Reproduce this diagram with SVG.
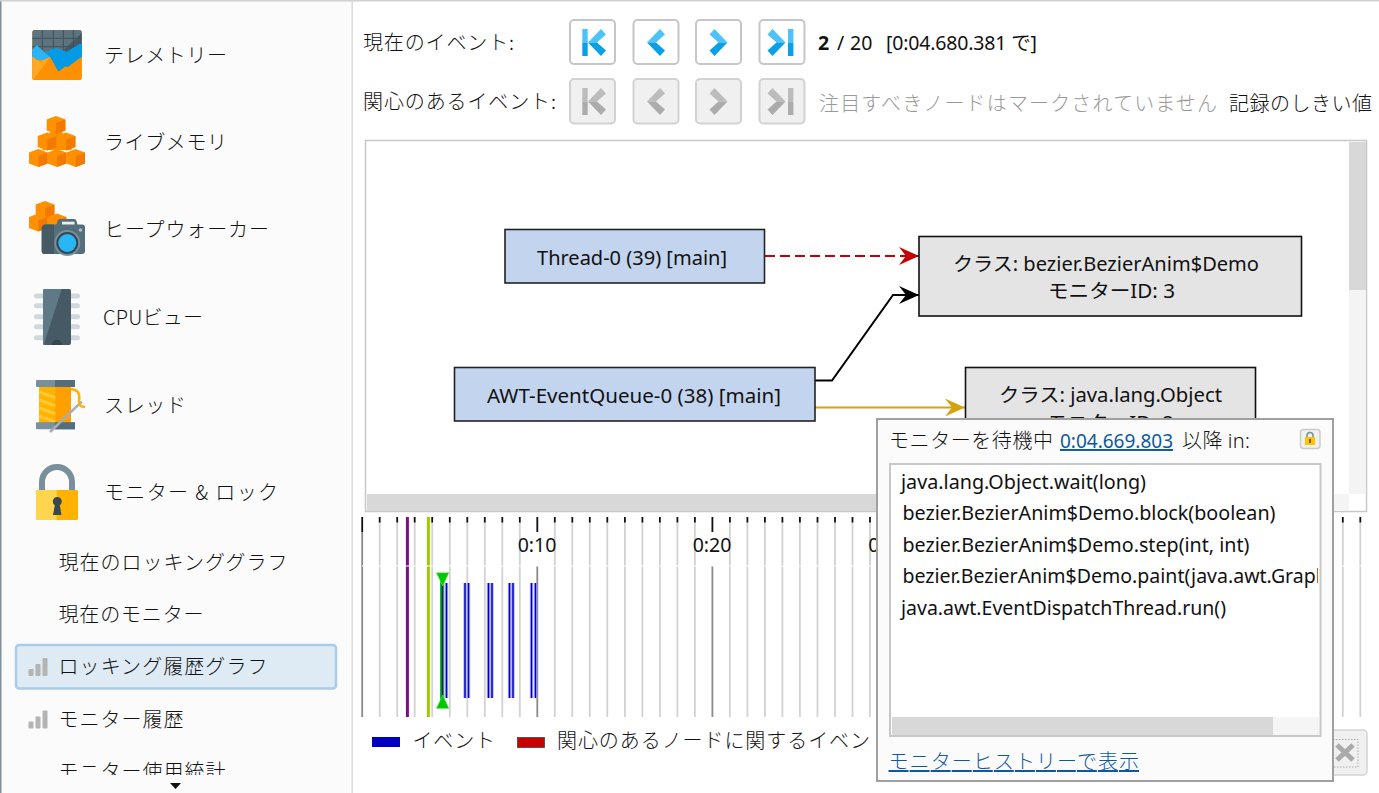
<svg xmlns="http://www.w3.org/2000/svg" xmlns:xlink="http://www.w3.org/1999/xlink" width="1379" height="793" viewBox="0 0 1379 793">
<style>
text{font-family:"Noto Sans","Noto Sans CJK JP",sans-serif;font-size:19.500px;fill:#111}
.jp{font-family:"Noto Sans CJK JP","Noto Sans",sans-serif;font-weight:300;font-size:20px}
.c{text-anchor:middle}
.thr{fill:#c3d4ee;stroke:#222;stroke-width:1.600}
.mon{fill:#e4e4e4;stroke:#111;stroke-width:1.600}
.btn{fill:#fff;stroke:#c6c6c6;stroke-width:2}
.btd{fill:#f0f0f0;stroke:#d2d2d2;stroke-width:2}
.lnk{fill:#0b5a9e}
.lt{fill:#4dc3fa}.dk{fill:#0aa0e8}.glt{fill:#bcbcbc}.gdk{fill:#acacac}
.bar{fill:#b4b4b4}
.minor{stroke:#d2d2d2;stroke-width:1.800;fill:none}
.major{stroke:#8a8a8a;stroke-width:1.800;fill:none}
.tick{stroke:#111;stroke-width:1.800;fill:none}
.evh{stroke:#b4b4f4;stroke-width:3.400;fill:none}
.ev{stroke:#0000cc;stroke-width:1.500;fill:none}
.cl{fill:#ff9100}.cd{fill:#f27a00}
</style>
<defs>
<marker id="hr" markerUnits="userSpaceOnUse" markerWidth="22" markerHeight="20" refX="20" refY="9" orient="auto"><path d="M0 0L20 9L0 18L7 9Z" fill="#c40000"/></marker>
<marker id="hk" markerUnits="userSpaceOnUse" markerWidth="22" markerHeight="20" refX="20" refY="9" orient="auto"><path d="M0 0L20 9L0 18L7 9Z" fill="#000"/></marker>
<marker id="hy" markerUnits="userSpaceOnUse" markerWidth="22" markerHeight="20" refX="20" refY="9" orient="auto"><path d="M0 0L20 9L0 18L7 9Z" fill="#d4a410"/></marker>
<g id="chev"><polygon class="lt" points="0,42.500 13,29 18,34.500 9,42.500"/><polygon class="dk" points="0,42.500 9,42.500 18,50.500 13,56"/></g>
<g id="chevg"><polygon class="glt" points="0,42.500 13,29 18,34.500 9,42.500"/><polygon class="gdk" points="0,42.500 9,42.500 18,50.500 13,56"/></g>
<g id="bars"><rect class="bar" x="0" y="11" width="5" height="7" rx="1"/><rect class="bar" x="7" y="6" width="5" height="12" rx="1"/><rect class="bar" x="14" y="0" width="5" height="18" rx="1"/></g>
<g id="cube"><polygon class="cl" points="0,3.500 9.350,0 18.700,3.500 18.700,14.500 9.350,18 0,14.500"/><polygon class="cd" points="9.350,7 18.700,3.500 18.700,14.500 9.350,18"/></g>
<clipPath id="sideClip"><rect x="0" y="0" width="352" height="775"/></clipPath>
<clipPath id="listClip"><rect x="892" y="466" width="426" height="250"/></clipPath>
<clipPath id="topClip"><rect x="355" y="0" width="1017" height="135"/></clipPath>
</defs>
<rect width="1379" height="793" fill="#fff"/>
<g id="sidebar">
<rect x="0" y="0" width="352" height="793" fill="#fbfbfb"/>
<rect x="0" y="0" width="1.500" height="793" fill="#7f909c"/>
<rect x="351.500" y="0" width="1.500" height="793" fill="#dcdcdc"/>
<rect x="0" y="0" width="1379" height="1.500" fill="#d0d0d0"/>
<g id="nav-telemetry">
<rect x="32.300" y="30" width="49.400" height="50" rx="2.500" fill="#ff9100"/>
<path d="M32.300 32.500a2.500 2.500 0 0 1 2.500-2.500H79.200a2.500 2.500 0 0 1 2.500 2.500V58H32.300Z" fill="#5d737e"/>
<path d="M81.700 33L55 58H81.700Z" fill="#455a64"/>
<path d="M42.300 30V50M53.300 30V50M63.300 30V50M73.300 30V50M32.300 38.300H81.700M32.300 46.700H81.700" stroke="#3f515a" stroke-width="1"/>
<path d="M32.300 50L36.700 45L45 53L55 48L66.700 52L80 44L81.700 44V60H32.300Z" fill="#29b6f6"/>
<path d="M45 53L55 48L66.700 52L80 44L81.700 44V57L68.300 67L65 67L58.300 72L50 57Z" fill="#039be5"/>
<path d="M32.300 56.700L40 61.700L50 57L58.300 71.700L65 66.700L68.300 66.700L81.700 56.700V77.500a2.500 2.500 0 0 1-2.500 2.500H34.800a2.500 2.500 0 0 1-2.500-2.500Z" fill="#ff9100"/>
<path d="M32.300 56.700L40 61.700L50 57L33 80A2.500 2.500 0 0 1 32.300 77.500Z" fill="#ffa726"/>
</g>
<text class="jp" x="104" y="63" textLength="123">テレメトリー</text>
<g id="nav-livememory">
<polygon class="cl" points="50,132 62,132 72,150 42,150"/>
<use href="#cube" x="46.700" y="116"/>
<use href="#cube" x="37.700" y="132.500"/><use href="#cube" x="56.700" y="132.500"/>
<use href="#cube" x="29" y="149"/><use href="#cube" x="47.700" y="149"/><use href="#cube" x="66.300" y="149"/>
</g>
<text class="jp" x="104" y="150" textLength="123">ライブメモリ</text>
<g id="nav-heapwalker">
<use href="#cube" x="35.700" y="201"/><use href="#cube" x="29" y="213.500"/><use href="#cube" x="47.700" y="213.500"/>
<path d="M41.700 228a4 4 0 0 1 3-3.500H56.500L58 220a2 2 0 0 1 2-1H74a2.500 2.500 0 0 1 2.500 2L77.500 224.500H82a3 3 0 0 1 3 3V251a3 3 0 0 1-3 3H44.700a3 3 0 0 1-3-3Z" fill="#546e7a"/>
<path d="M41.700 228a4 4 0 0 1 3-3.500H54V254H44.700a3 3 0 0 1-3-3Z" fill="#455a64"/>
<rect x="62" y="221.700" width="12.500" height="2.800" fill="#eceff1"/>
<circle cx="67.300" cy="243" r="13" fill="#78909c"/><circle cx="67.300" cy="243" r="11" fill="#37474f"/><circle cx="67.300" cy="243" r="9" fill="#29b6f6"/>
<circle cx="80.500" cy="230" r="1.800" fill="#b0bec5"/>
</g>
<text class="jp" x="104" y="237" textLength="165">ヒープウォーカー</text>
<g id="nav-cpu">
<path d="M36.500 296H77.500M36.500 305.700H77.500M36.500 316.700H77.500M36.500 326.700H77.500M36.500 337.700H77.500" stroke="#cfd8dc" stroke-width="5" stroke-linecap="round"/>
<rect x="43" y="289" width="28" height="56" rx="2" fill="#455a64"/>
<path d="M43 291a2 2 0 0 1 2-2H61.700L43.700 345H43Z" fill="#5f7a87"/>
<path d="M52 345a5 5 0 0 1 10 0Z" fill="#37474f"/>
</g>
<text class="jp" x="103" y="325" textLength="100">CPUビュー</text>
<g id="nav-threads">
<rect x="39.300" y="386" width="31.700" height="37" fill="#ffa000"/>
<rect x="39.300" y="386" width="16" height="37" fill="#ffb300"/>
<path d="M39.300 392L55.300 398M39.300 400L55.300 406M39.300 408L55.300 414M39.300 416L55.300 422" stroke="#ffc933" stroke-width="3"/>
<rect x="36" y="380" width="39" height="7" rx="1" fill="#78909c"/><rect x="55" y="380" width="20" height="7" fill="#546e7a"/>
<rect x="36" y="422.300" width="39" height="7" rx="1" fill="#78909c"/><rect x="55" y="422.300" width="20" height="7" fill="#546e7a"/>
<path d="M50 432L81.700 401.700" stroke="#a3afb5" stroke-width="2.500"/>
<path d="M71 389Q81 390 79 400Q78 407 85 407" stroke="#ffb300" stroke-width="2.500" fill="none"/>
</g>
<text class="jp" x="104" y="413" textLength="82">スレッド</text>
<g id="nav-monitors">
<path d="M42 490V482a15 15 0 0 1 30 0V490" stroke="#78909c" stroke-width="6" fill="none"/>
<rect x="36" y="490" width="42" height="30" rx="1.500" fill="#ffb300"/>
<path d="M37.500 490H56.700V520H37.500A1.500 1.500 0 0 1 36 518.500V491.500A1.500 1.500 0 0 1 37.500 490Z" fill="#ffd54f"/>
<path d="M57.300 497a4.500 4.500 0 0 1 2.500 8.200L61.500 515H53L54.800 505.200A4.500 4.500 0 0 1 57.300 497Z" fill="#37474f"/>
</g>
<text class="jp" x="104" y="500" textLength="174">モニター &amp; ロック</text>
<text class="jp" x="58.500" y="570" textLength="229">現在のロッキンググラフ</text>
<text class="jp" x="58.500" y="622" textLength="145">現在のモニター</text>
<g id="nav-selected">
<rect x="16" y="645" width="320" height="43.500" rx="3" fill="#deeaf4" stroke="#a9cde6" stroke-width="2.500"/>
<use href="#bars" x="28.500" y="658"/>
<text class="jp" x="58.500" y="674" textLength="209">ロッキング履歴グラフ</text>
</g>
<use href="#bars" x="28.500" y="710.500"/>
<text class="jp" x="58.500" y="727" textLength="125">モニター履歴</text>
<g clip-path="url(#sideClip)"><text class="jp" x="58.500" y="779" textLength="167">モニター使用統計</text></g>
<polygon points="170,783 181,783 175.500,789" fill="#111"/>
</g>
<g id="toolbar">
<text class="jp" x="363" y="50" textLength="151">現在のイベント:</text>
<g id="btn-first"><rect class="btn" x="570" y="20" width="45" height="44" rx="4"/><rect class="lt" x="582.300" y="29" width="5.400" height="13.500"/><rect class="dk" x="582.300" y="42.500" width="5.400" height="13.500"/><use href="#chev" x="588"/></g>
<g id="btn-prev"><rect class="btn" x="633.500" y="20" width="45" height="44" rx="4"/><use href="#chev" x="647"/></g>
<g id="btn-next"><rect class="btn" x="696" y="20" width="45" height="44" rx="4"/><use href="#chev" transform="translate(727.500 0) scale(-1 1)"/></g>
<g id="btn-last"><rect class="btn" x="759.500" y="20" width="45" height="44" rx="4"/><rect class="lt" x="788" y="29" width="5.400" height="13.500"/><rect class="dk" x="788" y="42.500" width="5.400" height="13.500"/><use href="#chev" transform="translate(785.500 0) scale(-1 1)"/></g>
<text x="818" y="50"><tspan font-weight="700">2</tspan><tspan x="837">/</tspan><tspan x="850">20</tspan></text>
<text x="886" y="50" textLength="151">[0:04.680.381 で]</text>
<text class="jp" x="363" y="109" textLength="193">関心のあるイベント:</text>
<g id="btn2-first"><rect class="btd" x="570" y="79" width="45" height="44.500" rx="4"/><rect class="glt" x="582.300" y="88" width="5.400" height="13.500"/><rect class="gdk" x="582.300" y="101.500" width="5.400" height="13.500"/><use href="#chevg" x="588" y="59"/></g>
<g id="btn2-prev"><rect class="btd" x="633.500" y="79" width="45" height="44.500" rx="4"/><use href="#chevg" x="647" y="59"/></g>
<g id="btn2-next"><rect class="btd" x="696" y="79" width="45" height="44.500" rx="4"/><use href="#chevg" transform="translate(727.500 59) scale(-1 1)"/></g>
<g id="btn2-last"><rect class="btd" x="759.500" y="79" width="45" height="44.500" rx="4"/><rect class="glt" x="788" y="88" width="5.400" height="13.500"/><rect class="gdk" x="788" y="101.500" width="5.400" height="13.500"/><use href="#chevg" transform="translate(785.500 59) scale(-1 1)"/></g>
<text class="jp" x="819" y="110.500" textLength="398" style="fill:#999">注目すべきノードはマークされていません</text>
<g clip-path="url(#topClip)"><text class="jp" x="1229" y="110.500" textLength="143">記録のしきい値</text></g>
</g>
<g id="graph-panel">
<rect x="365.500" y="140.500" width="1001" height="371" fill="#fff" stroke="#c8c8c8" stroke-width="1.500"/>
<rect x="1349" y="142" width="17" height="352" fill="#f4f4f4"/>
<rect x="1349" y="142" width="17" height="148" fill="#d8d8d8"/>
<rect x="367" y="494" width="982" height="17" fill="#f4f4f4"/>
<rect x="367" y="494" width="600" height="17" fill="#d8d8d8"/>
</g>
<g id="connectors" fill="none" stroke-width="2">
<path d="M765 256H919" stroke="#c40000" stroke-dasharray="10 5" marker-end="url(#hr)"/>
<path d="M815 380.500H832L893 295H919" stroke="#000" marker-end="url(#hk)"/>
<path d="M815 407.500H965" stroke="#d4a410" marker-end="url(#hy)"/>
</g>
<g id="node-thread0"><rect class="thr" x="505" y="229.500" width="259.500" height="53.500"/><text class="c" x="632" y="265" textLength="190" lengthAdjust="spacingAndGlyphs">Thread-0 (39) [main]</text></g>
<g id="node-awt"><rect class="thr" x="454.500" y="367.500" width="360.500" height="53.500"/><text class="c" x="634" y="403" textLength="294" lengthAdjust="spacingAndGlyphs">AWT-EventQueue-0 (38) [main]</text></g>
<g id="node-demo"><rect class="mon" x="919" y="236.500" width="382.500" height="79.500"/><text class="c" x="1106" y="271" textLength="306" lengthAdjust="spacingAndGlyphs">クラス: bezier.BezierAnim$Demo</text><text class="c" x="1111.500" y="298" textLength="127" lengthAdjust="spacingAndGlyphs">モニターID: 3</text></g>
<g id="node-object"><rect class="mon" x="965.500" y="367.500" width="290" height="80"/><text class="c" x="1110.500" y="402" textLength="223" lengthAdjust="spacingAndGlyphs">クラス: java.lang.Object</text><text class="c" x="1110.500" y="430" textLength="127" lengthAdjust="spacingAndGlyphs">モニターID: 2</text></g>
<g id="timeline">
<path class="minor" d="M379.700 522V717M397.200 522V717M414.700 522V717M432.200 522V717M449.800 522V717M467.300 522V717M484.800 522V717M502.300 522V717M519.800 522V717M554.800 522V717M572.300 522V717M589.800 522V717M607.300 522V717M624.900 522V717M642.400 522V717M659.900 522V717M677.400 522V717M694.900 522V717M729.900 522V717M747.400 522V717M764.900 522V717M782.400 522V717M799.900 522V717M817.500 522V717M835 522V717M852.500 522V717M870 522V717M1342.800 522V717M1360.300 522V717"/>
<path class="major" d="M362.200 532V717M537.300 566V717M712.400 566V717"/>
<path class="tick" d="M362.200 517V532M537.300 517V532M712.400 517V532M379.700 517V522.500M397.200 517V522.500M414.700 517V522.500M432.200 517V522.500M449.800 517V522.500M467.300 517V522.500M484.800 517V522.500M502.300 517V522.500M519.800 517V522.500M554.800 517V522.500M572.300 517V522.500M589.800 517V522.500M607.300 517V522.500M624.900 517V522.500M642.400 517V522.500M659.900 517V522.500M677.400 517V522.500M694.900 517V522.500M729.900 517V522.500M747.400 517V522.500M764.900 517V522.500M782.400 517V522.500M799.900 517V522.500M817.500 517V522.500M835 517V522.500M852.500 517V522.500M870 517V522.500M1342.800 517V522.500M1360.300 517V522.500"/>
<rect x="405.900" y="517" width="3" height="200" fill="#800a88"/>
<rect x="426.900" y="517" width="3" height="200" fill="#9ccc00"/>
<path d="M362 566H1366" stroke="#fff" stroke-width="1"/>
<text class="c" x="537" y="552">0:10</text>
<text class="c" x="712" y="552">0:20</text>
<text class="c" x="887.500" y="552">0:30</text>
<path class="evh" d="M442.500 583V698M446.500 583V698M465 583V698M468.500 583V698M488.500 583V698M492 583V698M509.500 583V698M513 583V698M531.500 583V698M535.500 583V698"/>
<rect x="440" y="578" width="4.200" height="125" fill="#00c800"/>
<path class="ev" d="M442.300 583V698M446.500 583V698M465 583V698M468.500 583V698M488.500 583V698M492 583V698M509.500 583V698M513 583V698M531.500 583V698M535.500 583V698"/>
<polygon points="436.300,572.700 449,572.700 442.700,586" fill="#00c800" stroke="#7fe47f" stroke-width="0.600"/>
<polygon points="436.300,708.500 449,708.500 442.700,695" fill="#00c800" stroke="#7fe47f" stroke-width="0.600"/>
</g>
<g id="legend">
<rect x="372" y="737" width="28" height="10" fill="#0000c0"/>
<text class="jp" x="412.500" y="748" textLength="82.500">イベント</text>
<rect x="517.500" y="737.500" width="27" height="10" fill="#c80000" stroke="#444" stroke-width="0.800"/>
<text class="jp" x="557" y="748" textLength="313">関心のあるノードに関するイベン</text>
</g>
<g id="close-button">
<rect x="1320" y="730" width="47" height="45" rx="4" fill="#f0f0f0" stroke="#d4d4d4" stroke-width="1.500"/>
<rect x="1330" y="739.500" width="28" height="27.500" fill="none" stroke="#aaa" stroke-dasharray="1.500 1.500"/>
<path d="M1337 745L1353 760M1353 745L1337 760" stroke="#aaa" stroke-width="5"/>
</g>
<g id="popup">
<rect x="877" y="419" width="456" height="362" fill="#fbfbfb" stroke="#a0a0a0" stroke-width="2"/>
<text class="jp" x="889" y="448" textLength="164">モニターを待機中</text>
<text class="lnk" x="1060" y="448" textLength="113" lengthAdjust="spacingAndGlyphs" text-decoration="underline">0:04.669.803</text>
<text class="jp" x="1182" y="448" textLength="68">以降 <tspan style="font-family:'Noto Sans',sans-serif">in:</tspan></text>
<g id="lock-btn"><rect x="1300.500" y="429.500" width="19.500" height="19" rx="3" fill="#f0f0f0" stroke="#ccc" stroke-width="1.500"/><path d="M1307 437V435.500a3 3 0 0 1 6 0V437" stroke="#78909c" stroke-width="1.500" fill="none"/><rect x="1305" y="437" width="10" height="8" fill="#ffc400"/><rect x="1309.300" y="439" width="1.500" height="4" fill="#37474f"/></g>
<rect x="890" y="464" width="430.500" height="272" fill="#fff" stroke="#c8c8c8" stroke-width="2"/>
<g clip-path="url(#listClip)">
<text x="901" y="489" textLength="245" lengthAdjust="spacingAndGlyphs">java.lang.Object.wait(long)</text>
<text x="902.500" y="520" textLength="373" lengthAdjust="spacingAndGlyphs">bezier.BezierAnim$Demo.block(boolean)</text>
<text x="902.500" y="552" textLength="347" lengthAdjust="spacingAndGlyphs">bezier.BezierAnim$Demo.step(int, int)</text>
<text x="902.500" y="583" textLength="455" lengthAdjust="spacingAndGlyphs">bezier.BezierAnim$Demo.paint(java.awt.Graphics)</text>
<text x="901" y="615" textLength="325" lengthAdjust="spacingAndGlyphs">java.awt.EventDispatchThread.run()</text>
</g>
<rect x="892" y="717" width="427" height="18" fill="#f5f5f5"/>
<rect x="892" y="717" width="381" height="18" fill="#d8d8d8"/>
<text class="jp lnk" x="888.500" y="769" textLength="250.500" text-decoration="underline">モニターヒストリーで表示</text>
</g>
</svg>
